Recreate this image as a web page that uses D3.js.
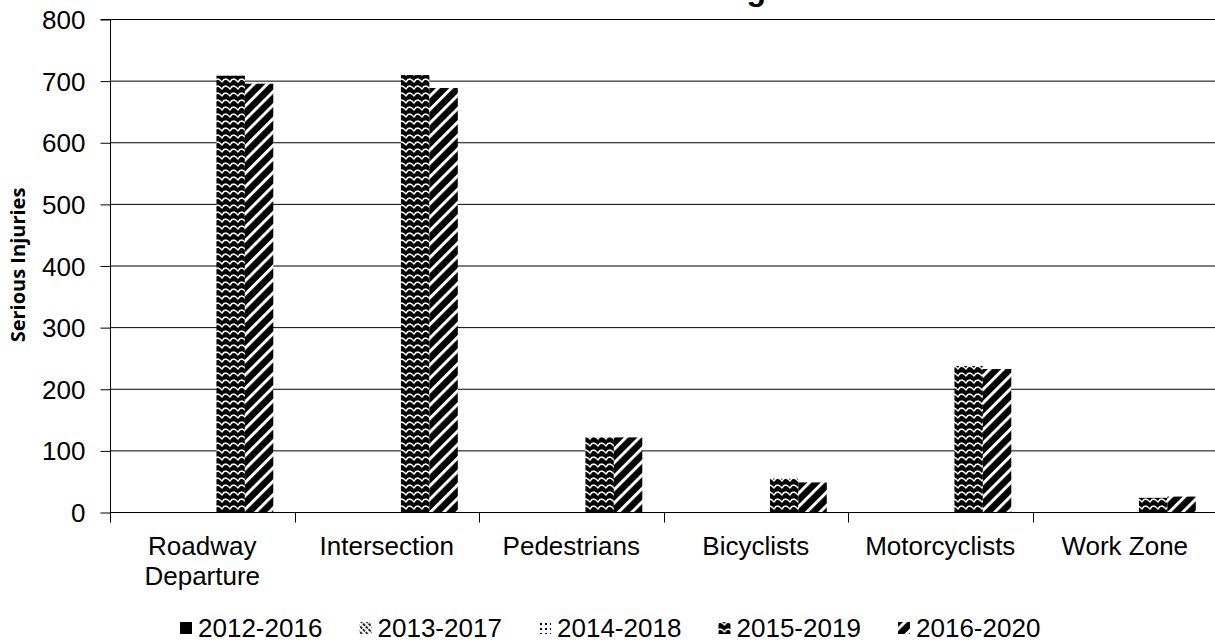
<!DOCTYPE html>
<html><head><meta charset="utf-8">
<script src="https://cdn.jsdelivr.net/npm/d3@7"></script>
<style>body{margin:0;background:#fff}svg{display:block}</style>
</head><body>
<svg id="c" width="1215" height="642"></svg>
<script>
const categories = [["Roadway","Departure"],["Intersection"],["Pedestrians"],["Bicyclists"],["Motorcyclists"],["Work Zone"]];
const seriesNames = ["2012-2016","2013-2017","2014-2018","2015-2019","2016-2020"];
const s2012 = [0,0,0,0,0,0];
const s2013 = [0,0,0,0,0,0];
const s2014 = [0,0,0,0,0,0];
const s2015 = [708,709,121,54,237,23];
const s2016 = [695,688,121,48,232,25];
const seriesValues = [s2012,s2013,s2014,s2015,s2016];
const yTicks = [0,100,200,300,400,500,600,700,800];
const titleText = "Five Year Rolling";
const yTitle = "Serious Injuries";

(function(){
const svg = d3.select("#c");
const W = 1215, H = 642;
const mLeft = 110, mRight = 1217, mTop = 19, mBottom = 512;
const FONT = "Liberation Sans, Arial, sans-serif";
const FS = 26;
const defs = svg.append("defs");

// patterns
const p0 = defs.append("pattern").attr("id","pat0").attr("width",4).attr("height",4).attr("patternUnits","userSpaceOnUse");
p0.append("rect").attr("width",4).attr("height",4).attr("fill","#000");
const p1 = defs.append("pattern").attr("id","pat1").attr("width",4).attr("height",4).attr("patternUnits","userSpaceOnUse").attr("patternTransform","rotate(-45)");
p1.append("rect").attr("width",4).attr("height",4).attr("fill","#fff");
p1.append("rect").attr("width",1.6).attr("height",3).attr("fill","#000");
const p2 = defs.append("pattern").attr("id","pat2").attr("width",5).attr("height",5).attr("patternUnits","userSpaceOnUse");
p2.append("rect").attr("width",5).attr("height",5).attr("fill","#fff");
p2.append("rect").attr("x",1).attr("y",1).attr("width",2).attr("height",2).attr("fill","#000");
const p3 = defs.append("pattern").attr("id","pat3").attr("width",8).attr("height",7).attr("patternUnits","userSpaceOnUse");
p3.append("rect").attr("width",8).attr("height",7).attr("fill","#000");
p3.append("path").attr("d","M-2,5 L0,2.5 L2,2 L4,3 L6,5 L8,2.5 L10,2").attr("fill","none").attr("stroke","#fff").attr("stroke-width",1.5);
const p4 = defs.append("pattern").attr("id","pat4").attr("width",9.5).attr("height",9.5).attr("patternUnits","userSpaceOnUse").attr("patternTransform","rotate(45)");
p4.append("rect").attr("width",9.5).attr("height",9.5).attr("fill","#000");
p4.append("rect").attr("width",3).attr("height",9.5).attr("fill","#fff");

const fills = ["url(#pat0)","url(#pat1)","url(#pat2)","url(#pat3)","url(#pat4)"];

const x = d3.scaleBand().domain(d3.range(categories.length)).range([mLeft,mRight]).paddingInner(0).paddingOuter(0);
const bw = x.bandwidth();
const xs = d3.scaleBand().domain(d3.range(seriesNames.length)).range([bw*0.115, bw*0.885]);
const y = d3.scaleLinear().domain([0,800]).range([mBottom,mTop]);

// gridlines
svg.append("g").selectAll("line").data(yTicks.filter(d=>d>0)).join("line")
  .attr("x1",mLeft).attr("x2",W).attr("y1",d=>y(d)+0.5).attr("y2",d=>y(d)+0.5)
  .attr("stroke","#000").attr("stroke-width",1);

// bars
seriesValues.forEach((vals,si)=>{
  svg.append("g").selectAll("rect").data(vals).join("rect")
    .attr("x",(d,i)=>x(i)+xs(si)).attr("width",xs.bandwidth())
    .attr("y",d=>y(d)).attr("height",d=>y(0)-y(d))
    .attr("fill",fills[si]);
});

// y axis
const ya = d3.axisLeft(y).tickValues(yTicks).tickSize(10).tickPadding(15).tickFormat(d3.format("d"));
const gy = svg.append("g").attr("transform",`translate(${mLeft+0.5},0.5)`).call(ya);
gy.select("path").attr("d",`M-10,${mTop}H0V${mBottom+10}`).attr("stroke","#000");
gy.selectAll("line").attr("stroke","#000");
gy.selectAll("text").attr("font-family",FONT).attr("font-size",FS).attr("fill","#000").attr("dy","0.35em");

// x axis
const gx = svg.append("g").attr("transform",`translate(0,${mBottom+0.5})`);
gx.append("line").attr("x1",mLeft).attr("x2",W).attr("stroke","#000");
gx.selectAll("line.t").data(d3.range(categories.length+1)).join("line").attr("class","t")
  .attr("x1",i=>Math.round(mLeft+i*bw)+0.5).attr("x2",i=>Math.round(mLeft+i*bw)+0.5)
  .attr("y1",0).attr("y2",10).attr("stroke","#000");
const lab = gx.selectAll("text").data(categories).join("text")
  .attr("x",(d,i)=>x(i)+bw/2).attr("y",42)
  .attr("text-anchor","middle").attr("font-family",FONT).attr("font-size",FS).attr("fill","#000");
lab.each(function(d){
  const t=d3.select(this);
  d.forEach((line,k)=>t.append("tspan").attr("x",t.attr("x")).attr("dy",k?30:0).text(line));
});

// y title
svg.append("text").attr("transform","translate(25,265) rotate(-90)")
  .attr("text-anchor","middle").attr("font-family","Open Sans, sans-serif").attr("font-weight","bold")
  .attr("font-size",20).attr("fill","#000").text(yTitle);

// chart title (mostly clipped off the top, as in the source)
svg.append("text").attr("x",766).attr("y",0).attr("text-anchor","end")
  .attr("font-family",FONT).attr("font-weight","bold").attr("font-size",32).attr("fill","#000").text(titleText);

// legend
const legStep = 179.5, legX0 = 180;
const lg = svg.append("g").selectAll("g").data(seriesNames).join("g")
  .attr("transform",(d,i)=>`translate(${legX0+i*legStep},627)`);
lg.append("rect").attr("x",0).attr("y",-5).attr("width",12).attr("height",12).attr("fill",(d,i)=>fills[i]);
lg.append("text").attr("x",18).attr("y",9.5).attr("font-family",FONT).attr("font-size",FS).attr("fill","#000").text(d=>d);
})();
</script>
</body></html>
